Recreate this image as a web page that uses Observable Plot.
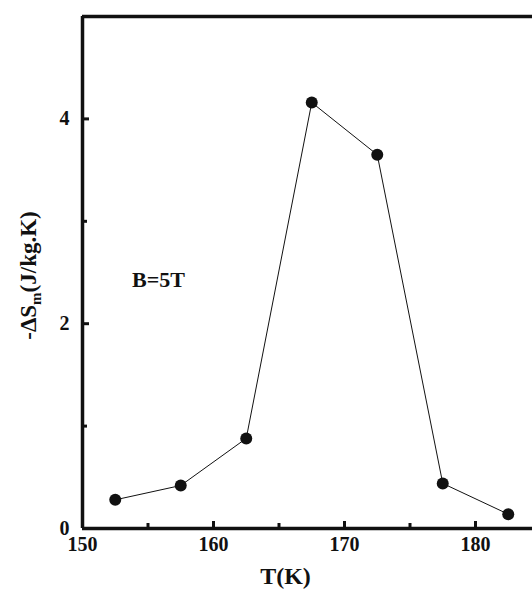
<!DOCTYPE html>
<html>
<head>
<meta charset="utf-8">
<script src="https://cdn.jsdelivr.net/npm/d3@7"></script>
<script src="https://cdn.jsdelivr.net/npm/@observablehq/plot@0.6"></script>
<style>
  html, body { margin: 0; padding: 0; background: #fff; }
  #chart svg { display: block; }
</style>
</head>
<body>
<div id="chart"></div>
<script>
// Data
const temperature = [152.5, 157.5, 162.5, 167.5, 172.5, 177.5, 182.5];
const entropyChange = [0.28, 0.42, 0.88, 4.16, 3.65, 0.44, 0.14];

const xMajorTicks = [150, 160, 170, 180];
const xMinorTicks = [155, 165, 175];
const yMajorTicks = [0, 2, 4];
const yMinorTicks = [1, 3];

const xLabel = "T(K)";
const yLabelMain = "-ΔS";
const yLabelSub = "m";
const yLabelRest = "(J/kg.K)";
const annotation = "B=5T";

const data = temperature.map((t, i) => ({t, s: entropyChange[i]}));

const W = 532, H = 592;
const mL = 82, mT = 16, mB = 64, mR = 0;
const xMax = 150 + (W - mL - mR) / 13.1;
const pxX = (W - mL - mR) / (xMax - 150);
const pxY = (H - mT - mB) / 5;

const chart = Plot.plot({
  width: W,
  height: H,
  marginLeft: mL,
  marginTop: mT,
  marginBottom: mB,
  marginRight: mR,
  style: {background: "#fff", color: "#111"},
  x: {domain: [150, xMax], label: null},
  y: {domain: [0, 5], label: null},
  marks: [
    // tick labels through the library's axes
    Plot.axisX(xMajorTicks, {tickSize: 0, tickPadding: 8, tickFormat: "d", fontSize: 20, fontWeight: "bold", label: null}),
    Plot.axisY(yMajorTicks, {tickSize: 0, tickPadding: 13, tickFormat: "d", fontSize: 20, fontWeight: "bold", label: null}),
    // inward major/minor ticks
    Plot.ruleX(xMajorTicks, {y1: 0, y2: 7 / pxY, stroke: "#111", strokeWidth: 3}),
    Plot.ruleX(xMinorTicks, {y1: 0, y2: 5 / pxY, stroke: "#111", strokeWidth: 3}),
    Plot.ruleY(yMajorTicks, {x1: 150, x2: 150 + 7 / pxX, stroke: "#111", strokeWidth: 3}),
    Plot.ruleY(yMinorTicks, {x1: 150, x2: 150 + 5 / pxX, stroke: "#111", strokeWidth: 3}),
    // frame: left, bottom, top
    Plot.ruleX([150], {stroke: "#111", strokeWidth: 3.5}),
    Plot.ruleY([0], {stroke: "#111", strokeWidth: 3.5}),
    Plot.ruleY([5], {stroke: "#111", strokeWidth: 3.5}),
    // data
    Plot.line(data, {x: "t", y: "s", stroke: "#111", strokeWidth: 1}),
    Plot.dot(data, {x: "t", y: "s", r: 6, fill: "#111", stroke: "none"}),
    // annotation
    Plot.text([annotation], {x: 155.8, y: 2.43, text: d => d, fontSize: 22, fontWeight: "bold", textAnchor: "middle", fill: "#111"}),
    // axis titles
    Plot.text([xLabel], {frameAnchor: "bottom", dx: -22, dy: 48, text: d => d, fontSize: 24, fontWeight: "bold", textAnchor: "middle", lineAnchor: "middle", fill: "#111"}),
    Plot.text([yLabelMain + yLabelSub + yLabelRest], {frameAnchor: "left", dx: -54, dy: 3, rotate: -90, text: d => d, fontSize: 23, fontWeight: "bold", textAnchor: "middle", lineAnchor: "middle", fill: "#111", className: "ylab"})
  ]
});

// turn the subscript into a real subscript tspan
d3.select(chart).selectAll(".ylab text").each(function() {
  const t = d3.select(this);
  t.text(null);
  t.append("tspan").text(yLabelMain);
  t.append("tspan").attr("baseline-shift", "-30%").style("font-size", "15px").text(yLabelSub);
  t.append("tspan").text(yLabelRest);
});

// serif bold typeface for every text, as in the reference
d3.select(chart).selectAll("text")
  .style("font-family", "'Liberation Serif', 'Times New Roman', serif")
  .style("font-weight", "bold");

document.getElementById("chart").appendChild(chart);
</script>
</body>
</html>
